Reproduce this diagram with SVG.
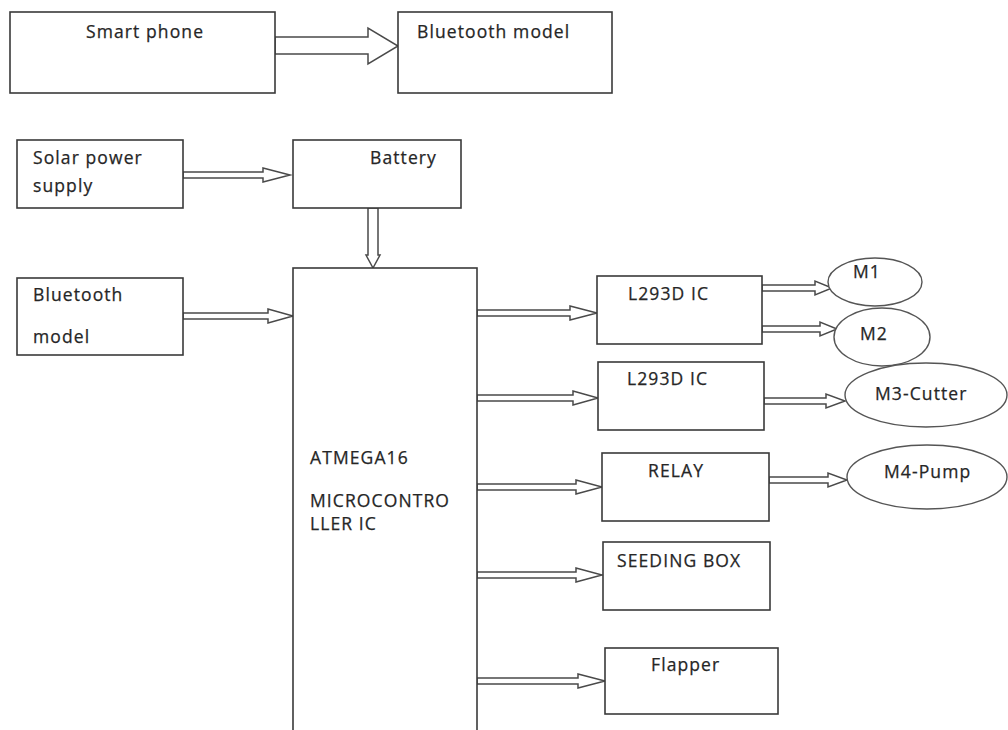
<svg xmlns="http://www.w3.org/2000/svg" width="1008" height="730" viewBox="0 0 1008 730">
<style>
.box{fill:#fff;stroke:#3a3a3a;stroke-width:1.6}
.ell{fill:#fff;stroke:#555;stroke-width:1.4}
.arr{fill:#fff;stroke:#4a4a4a;stroke-width:1.5;stroke-linejoin:miter}
text{font-family:"Open Sans","Noto Sans","Liberation Sans",sans-serif;font-size:17.5px;letter-spacing:1.1px;fill:#262626;stroke:#262626;stroke-width:0.25px}
</style>
<rect width="1008" height="730" fill="#fff"/>
<g id="connectors">
<polygon class="arr" points="275,37 368,37 368,28 398,46 368,64 368,54 275,54"/>
<polygon class="arr" points="183,172 263,172 263,168 290,175 263,182 263,178 183,178"/>
<polygon class="arr" points="368,208 378,208 378,255 380,255 373,268 366,255 368,255"/>
<polygon class="arr" points="183,313 268,313 268,309 293,316 268,323 268,319 183,319"/>
<polygon class="arr" points="477,310 570,310 570,306 597,313 570,320 570,316 477,316"/>
<polygon class="arr" points="477,395 573,395 573,391 598,398 573,405 573,401 477,401"/>
<polygon class="arr" points="477,484 576,484 576,480 602,487 576,494 576,490 477,490"/>
<polygon class="arr" points="477,572 576,572 576,568 602,575 576,582 576,578 477,578"/>
<polygon class="arr" points="477,678 578,678 578,674 605,681 578,688 578,684 477,684"/>
<polygon class="arr" points="762,285 815,285 815,281 832,288 815,295 815,291 762,291"/>
<polygon class="arr" points="762,326 820,326 820,322 837,329 820,336 820,332 762,332"/>
<polygon class="arr" points="764,398 826,398 826,394 845,401 826,408 826,404 764,404"/>
<polygon class="arr" points="769,477 828,477 828,473 847,480 828,487 828,483 769,483"/>
</g>
<g id="smartphone"><rect class="box" x="10" y="12" width="265" height="81"/><text x="86" y="38">Smart phone</text></g>
<g id="bluetooth-top"><rect class="box" x="398" y="12" width="214" height="81"/><text x="417" y="38">Bluetooth model</text></g>
<g id="solar"><rect class="box" x="17" y="140" width="166" height="68"/><text x="33" y="164">Solar power</text><text x="33" y="192">supply</text></g>
<g id="battery"><rect class="box" x="293" y="140" width="168" height="68"/><text x="370" y="164">Battery</text></g>
<g id="bluetooth-left"><rect class="box" x="17" y="278" width="166" height="77"/><text x="33" y="301">Bluetooth</text><text x="33" y="343">model</text></g>
<g id="atmega"><rect class="box" x="293" y="268" width="184" height="470"/><text x="310" y="464">ATMEGA16</text><text x="310" y="507">MICROCONTRO</text><text x="310" y="530">LLER IC</text></g>
<g id="l293d-1"><rect class="box" x="597" y="276" width="165" height="68"/><text x="628" y="300">L293D IC</text></g>
<g id="l293d-2"><rect class="box" x="598" y="362" width="166" height="68"/><text x="627" y="385">L293D IC</text></g>
<g id="relay"><rect class="box" x="602" y="453" width="167" height="68"/><text x="648" y="477">RELAY</text></g>
<g id="seeding"><rect class="box" x="603" y="542" width="167" height="68"/><text x="617" y="567">SEEDING BOX</text></g>
<g id="flapper"><rect class="box" x="605" y="648" width="173" height="66"/><text x="651" y="671">Flapper</text></g>
<g id="m1"><ellipse class="ell" cx="875" cy="282" rx="47" ry="24"/><text x="853" y="278">M1</text></g>
<g id="m2"><ellipse class="ell" cx="882" cy="337" rx="48" ry="29"/><text x="860" y="340">M2</text></g>
<g id="m3"><ellipse class="ell" cx="926" cy="395" rx="81" ry="32"/><text x="875" y="400">M3-Cutter</text></g>
<g id="m4"><ellipse class="ell" cx="927" cy="477" rx="80" ry="32"/><text x="884" y="478">M4-Pump</text></g>
</svg>
